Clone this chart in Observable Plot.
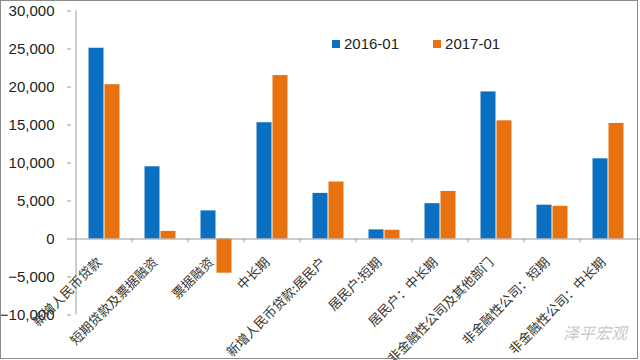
<!DOCTYPE html>
<html>
<head>
<meta charset="utf-8">
<script src="https://cdn.jsdelivr.net/npm/d3@7"></script>
<script src="https://cdn.jsdelivr.net/npm/@observablehq/plot@0.6"></script>
<style>
  html, body { margin: 0; padding: 0; background: #fff; }
  #wrap { position: relative; width: 640px; height: 360px; overflow: hidden; }
  #border { position: absolute; left: 0; top: 0; width: 636px; height: 357px; border: 1px solid #8a8a8a; pointer-events: none; }
  #legend { position: absolute; top: 35px; left: 332px; font-family: "Liberation Sans", Arial, sans-serif; font-size: 15px; color: #222; display: flex; gap: 34px; }
  #legend span.item { display: flex; align-items: center; }
  #legend span.sw { display: inline-block; width: 8px; height: 8px; margin-right: 4px; }
  #wm { position: absolute; left: 563px; top: 320px; white-space: nowrap; font-family: "Noto Sans CJK SC", sans-serif; font-size: 16px; color: #c8c8c8; font-style: italic; }
</style>
</head>
<body>
<div id="wrap">
  <div id="chart"></div>
  <div id="legend"></div>
  <div id="wm">泽平宏观</div>
  <div id="border"></div>
</div>
<script>
const categories = [
  "新增人民币贷款",
  "短期贷款及票据融资",
  "票据融资",
  "中长期",
  "新增人民币贷款:居民户",
  "居民户:短期",
  "居民户：中长期",
  "非金融性公司及其他部门",
  "非金融性公司：短期",
  "非金融性公司：中长期"
];
const seriesNames = ["2016-01", "2017-01"];
const values2016 = [25100, 9500, 3700, 15300, 6000, 1200, 4650, 19350, 4450, 10550];
const values2017 = [20300, 1000, -4500, 21500, 7500, 1150, 6250, 15550, 4300, 15200];
const yTicks = [-10000, -5000, 0, 5000, 10000, 15000, 20000, 25000, 30000];
const colors = ["#0B6FC1", "#E8720F"];

const d16 = categories.map((c, i) => ({category: c, value: values2016[i]}));
const d17 = categories.map((c, i) => ({category: c, value: values2017[i]}));

const chart = Plot.plot({
  width: 640,
  height: 360,
  marginLeft: 71,
  marginRight: 0,
  marginTop: 10.5,
  marginBottom: 45.5,
  style: {background: "transparent", overflow: "visible"},
  x: {domain: categories, padding: 0, axis: null},
  y: {domain: [-10000, 30000], axis: null},
  marks: [
    Plot.barY(d16, {x: "category", y: "value", fill: colors[0], insetLeft: 12.5, insetRight: 28.5}),
    Plot.barY(d17, {x: "category", y: "value", fill: colors[1], insetLeft: 28.5, insetRight: 12.5}),
    Plot.ruleY([0], {stroke: "#9a9a9a", strokeWidth: 1}),
    Plot.ruleX([categories[0]], {x: d => d, y1: -10000, y2: 30000, dx: -28.45, stroke: "#9a9a9a"}),
    Plot.ruleX(categories.slice(1), {x: d => d, y1: 0, y2: 0, dx: -28.45, insetBottom: -4, stroke: "#9a9a9a"}),
    Plot.axisY({ticks: yTicks, tickSize: 4, stroke: "#9a9a9a", text: null, label: null}),
    Plot.axisY({ticks: yTicks, tickFormat: d3.format(","), tickSize: 0, tickPadding: 0, dx: -17,
      label: null, fontSize: 15, fontFamily: "Liberation Sans, Arial, sans-serif", fill: "#222"}),
    Plot.text(categories, {x: d => d, y: 0, text: d => d, rotate: -45, textAnchor: "end",
      dx: -5, dy: 21, fontSize: 13, fontFamily: "Noto Sans CJK SC, sans-serif", fill: "#333"})
  ]
});
document.getElementById("chart").appendChild(chart);

const legend = document.getElementById("legend");
seriesNames.forEach((name, i) => {
  const item = document.createElement("span");
  item.className = "item";
  const sw = document.createElement("span");
  sw.className = "sw";
  sw.style.background = colors[i];
  item.appendChild(sw);
  item.appendChild(document.createTextNode(name));
  legend.appendChild(item);
});
</script>
</body>
</html>
